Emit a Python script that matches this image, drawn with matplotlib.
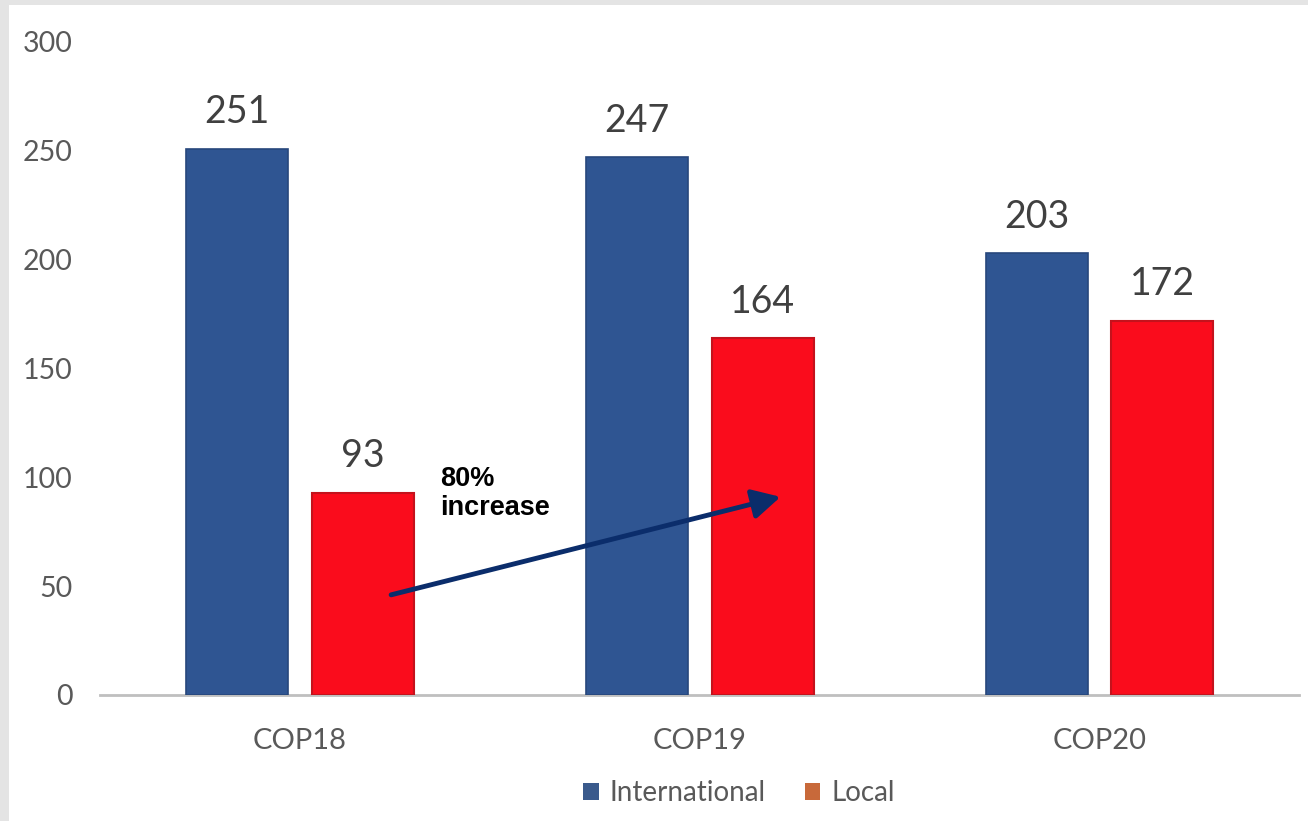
import numpy as np
import matplotlib
matplotlib.use('Agg')
import matplotlib.pyplot as plt
from matplotlib.patches import Patch, Rectangle

plt.rcParams['font.family'] = ['Lato', 'DejaVu Sans']

categories = ['COP18', 'COP19', 'COP20']
international = [251, 247, 203]
local = [93, 164, 172]
yticks = [0, 50, 100, 150, 200, 250, 300]

blue = '#2f5592'
red = '#fa0c1c'
text_grey = '#595959'

fig = plt.figure(figsize=(13.08, 8.21), dpi=100)
fig.patch.set_facecolor('white')
# light frame from the slide border
fig.patches.append(Rectangle((0, 0), 0.0065, 1, transform=fig.transFigure,
                             facecolor='#e4e4e4', edgecolor='none', zorder=0))
fig.patches.append(Rectangle((0, 0.9935), 1, 0.0065, transform=fig.transFigure,
                             facecolor='#e4e4e4', edgecolor='none', zorder=0))

ax = fig.add_axes([0.0765, 0.1535, 0.917, 0.7955])
x = np.arange(len(categories))
w = 0.255
off = 0.157

b1 = ax.bar(x - off, international, w, color=blue, edgecolor='#27477c', linewidth=1.2, zorder=3)
b2 = ax.bar(x + off, local, w, color=red, edgecolor='#c4121c', linewidth=1.5, zorder=3)

for bars, vals in [(b1, international), (b2, local)]:
    for rect, v in zip(bars, vals):
        ax.annotate(str(v), (rect.get_x() + rect.get_width() / 2, v),
                    xytext=(0, 13), textcoords='offset points',
                    ha='center', va='bottom', fontsize=27, color='#404040')

ax.set_xlim(-0.5, 2.5)
ax.set_ylim(0, 300)
ax.set_yticks(yticks)
ax.set_xticks(x)
ax.set_xticklabels(categories)
ax.tick_params(axis='y', length=0, pad=20, labelsize=20.5, labelcolor=text_grey)
ax.tick_params(axis='x', length=0, pad=24, labelsize=21, labelcolor=text_grey)
for side in ['top', 'right', 'left']:
    ax.spines[side].set_visible(False)
ax.spines['bottom'].set_color('#bfbfbf')
ax.spines['bottom'].set_linewidth(2)

# growth of the local delegation from COP18 to COP19
ax.annotate('', xy=(1.202, 91), xytext=(0.228, 46),
            arrowprops=dict(arrowstyle='-|>,head_length=1.7,head_width=0.9',
                            color='#0b2d6b', lw=3.5, shrinkA=0, shrinkB=0),
            zorder=5)
ax.text(0.35, 105, '80%\nincrease', fontsize=19.5, fontweight='bold',
        family=['Liberation Sans', 'DejaVu Sans'], color='black',
        ha='left', va='top', linespacing=1.15, zorder=5)

handles = [Patch(facecolor='#3a5a8c', edgecolor='none'),
           Patch(facecolor='#c8693a', edgecolor='none')]
fig.legend(handles, ['International', 'Local'], loc='center',
           bbox_to_anchor=(0.565, 0.034), ncol=2, frameon=False,
           fontsize=20, labelcolor=text_grey, handlelength=0.55, handleheight=0.55,
           handletextpad=0.4, columnspacing=1.4)

fig.savefig('out.png', dpi=100)
